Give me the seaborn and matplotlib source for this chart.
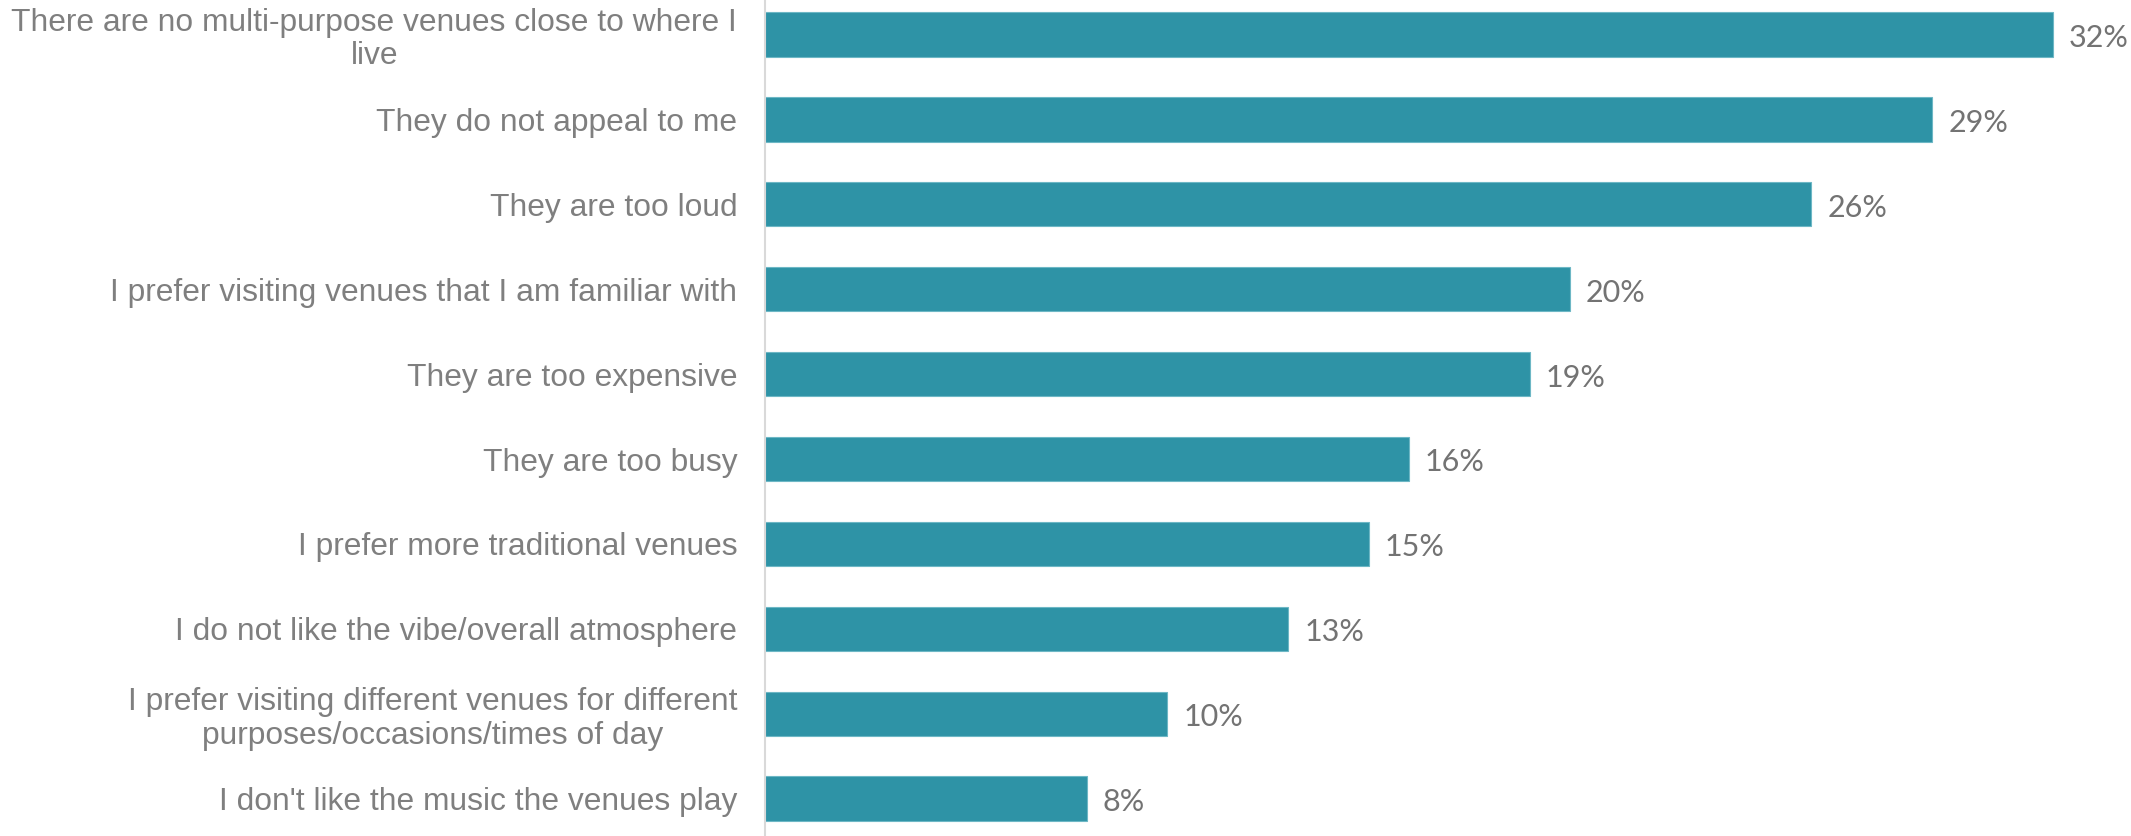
import matplotlib
matplotlib.use("Agg")
import matplotlib.pyplot as plt
import seaborn as sns
import pandas as pd

# Reasons for not visiting multi-purpose venues (% of respondents)
reasons = [
    "There are no multi-purpose venues close to where I\nlive",
    "They do not appeal to me",
    "They are too loud",
    "I prefer visiting venues that I am familiar with",
    "They are too expensive",
    "They are too busy",
    "I prefer more traditional venues",
    "I do not like the vibe/overall atmosphere",
    "I prefer visiting different venues for different\npurposes/occasions/times of day",
    "I don't like the music the venues play",
]
shares = [32, 29, 26, 20, 19, 16, 15, 13, 10, 8]

df = pd.DataFrame({"reason": reasons, "share": shares})

BAR_COLOR = "#2E93A6"
EDGE_COLOR = "#6DB7C5"
LABEL_GREY = "#7F7F7F"
VALUE_GREY = "#737373"

sns.set_theme(style="white")
plt.rcParams["font.family"] = ["Liberation Sans", "DejaVu Sans"]

W, H = 2131, 836
fig = plt.figure(figsize=(W / 100, H / 100), dpi=100)
ax_left = 765
ax = fig.add_axes([ax_left / W, 0, (W - ax_left) / W, 1])

sns.barplot(
    data=df, x="share", y="reason", orient="h",
    color=BAR_COLOR, saturation=1, width=0.523,
    edgecolor=EDGE_COLOR, linewidth=0.8, ax=ax,
)

ax.set_xlim(0, 33.94)
ax.set_ylim(9.44, -0.406)

# value labels just past the end of each bar
for patch, v in zip(ax.patches, df["share"]):
    ax.annotate(
        f"{v:.0f}%",
        xy=(patch.get_x() + patch.get_width(), patch.get_y() + patch.get_height() / 2),
        xytext=(11.5, -2.5), textcoords="offset points",
        ha="left", va="center", fontsize=22, color=VALUE_GREY,
        family=["Lato", "DejaVu Sans"],
    )

ax.set_xlabel("")
ax.set_ylabel("")
ax.set_xticks([])
ax.tick_params(axis="y", length=0, pad=20)
for lbl in ax.get_yticklabels():
    lbl.set_fontsize(22.9)
    lbl.set_color(LABEL_GREY)
    lbl.set_horizontalalignment("right")
    lbl.set_multialignment("center")
    lbl.set_linespacing(1.15)

for side in ["top", "right", "bottom"]:
    ax.spines[side].set_visible(False)
ax.spines["left"].set_color("#D9D9D9")
ax.spines["left"].set_linewidth(1.5)

fig.savefig("out.png", dpi=100, facecolor="white")
